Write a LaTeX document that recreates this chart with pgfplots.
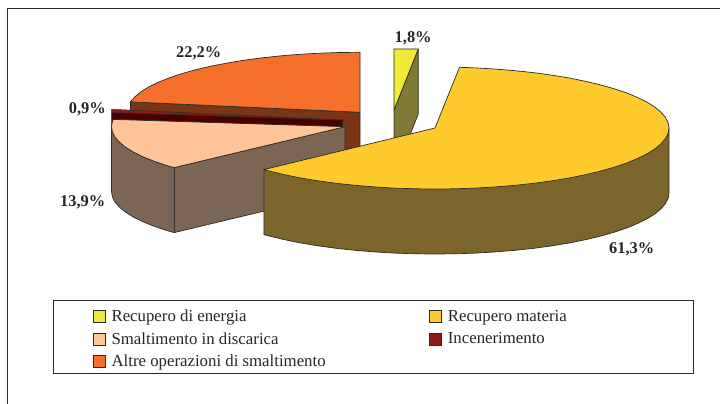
\documentclass[border=0pt]{standalone}
\usepackage{pgfplots}
\pgfplotsset{compat=1.18}
\usepackage{fontspec}
\setmainfont{Liberation Serif}
\definecolor{txt}{HTML}{262626}
\definecolor{edge}{HTML}{2A2A2A}
\definecolor{yelT}{HTML}{F0E938}
\definecolor{yelS}{HTML}{7F7B36}
\definecolor{golT}{HTML}{FFCA2B}
\definecolor{golS}{HTML}{7B652B}
\definecolor{orgT}{HTML}{F4702B}
\definecolor{orgS}{HTML}{7A3516}
\definecolor{pchT}{HTML}{FFC599}
\definecolor{pchS}{HTML}{7B6655}
\definecolor{marT}{HTML}{8B1A1A}
\definecolor{marS}{HTML}{4A0000}
\begin{document}
\begin{tikzpicture}
\begin{axis}[
  scale only axis,
  width=720pt, height=404pt,
  xmin=0, xmax=720, ymin=0, ymax=404,
  y dir=reverse,
  hide axis,
  no markers,
  legend columns=2,
  legend cell align=left,
  legend style={
    at={(axis cs:89.5,306)}, anchor=north west,
    draw=none, fill=none,
    font=\fontsize{16.8}{20}\selectfont\color{txt},
    /tikz/column 2/.style={column sep=101.3pt},
    row sep=5.1pt,
  },
  legend image code/.code={\draw[#1] (0pt,-6pt) rectangle (12.5pt,6pt); \path[draw=none,fill=none] (0pt,0pt) -- (16.5pt,0pt);},
]
\addlegendimage{fill=yelT, draw=edge, line width=0.7pt}
\addlegendentry{Recupero di energia}
\addlegendimage{fill=golT, draw=edge, line width=0.7pt}
\addlegendentry{Recupero materia}
\addlegendimage{fill=pchT, draw=edge, line width=0.7pt}
\addlegendentry{Smaltimento in discarica}
\addlegendimage{fill=marT, draw=edge, line width=0.7pt}
\addlegendentry{Incenerimento}
\addlegendimage{fill=orgT, draw=edge, line width=0.7pt}
\addlegendentry{Altre operazioni di smaltimento}

% outer frame, open on the right and at the bottom
\addplot[forget plot, draw=edge, line width=1.2pt] coordinates {(7.3,404) (7.3,8.5) (720,8.5)};
% legend box
\addplot[forget plot, draw=edge, line width=0.9pt] coordinates {(53.3,300.7) (693.7,300.7) (693.7,373) (53.3,373)} -- cycle;

% Recupero di energia 1,8
\addplot[forget plot, fill=yelS, draw=edge, line width=0.7pt, line join=round] coordinates {(394,110) (418.3,49) (418.3,114) (394,175)} -- cycle;
\addplot[forget plot, fill=yelT, draw=edge, line width=0.7pt, line join=round] coordinates {(394,49) (418.3,49) (394,110)} -- cycle;

% Altre operazioni 22,2
\addplot[forget plot, fill=orgS, draw=edge, line width=0.7pt, line join=round] coordinates {(130.5,101.9) (360,112.3) (360,177.3) (130.5,166.9)} -- cycle;
\addplot[forget plot, fill=orgT, draw=edge, line width=0.7pt, line join=round] coordinates {
  (360,112.3) (360,52.3) (339.7,52.5) (319.5,53.2) (299.7,54.3) (280.3,55.9) (261.5,57.9)
  (243.5,60.3) (226.4,63.2) (210.2,66.3) (195.2,69.9) (181.5,73.7) (169.1,77.9) (158.2,82.3)
  (148.8,86.9) (141.0,91.8) (134.9,96.8) (130.5,101.9)} -- cycle;

% Incenerimento 0,9
\addplot[forget plot, fill=marS, draw=edge, line width=0.7pt, line join=round] coordinates {(111.7,112.5) (342.7,120) (342.7,185) (111.7,177.5)} -- cycle;
\addplot[forget plot, fill=marT, draw=edge, line width=0.5pt, line join=round] coordinates {(342.7,120) (111.7,109.3) (111.7,112.5)} -- cycle;

% Smaltimento in discarica 13,9
\addplot[forget plot, fill=pchS, draw=edge, line width=0.7pt, line join=round] coordinates {
  (174.2,167.6) (345,126.7) (345,191.7) (174.2,232.6)} -- cycle;
\addplot[forget plot, fill=pchS, draw=edge, line width=0.7pt, line join=round] coordinates {
  (111.5,126.7) (112.4,131.9) (115.0,137.1) (119.5,142.2) (125.6,147.2) (133.4,152.1) (142.8,156.7)
  (153.7,161.1) (166.1,165.3) (174.2,167.6) (174.2,232.6) (166.1,230.3) (153.7,226.1) (142.8,221.7)
  (133.4,217.1) (125.6,212.2) (119.5,207.2) (115.0,202.1) (112.4,196.9) (111.5,191.7)} -- cycle;
\addplot[forget plot, fill=pchT, draw=edge, line width=0.7pt, line join=round] coordinates {
  (345,126.7) (113.2,119.4) (112.4,121.5) (111.5,126.7) (112.4,131.9) (115.0,137.1) (119.5,142.2)
  (125.6,147.2) (133.4,152.1) (142.8,156.7) (153.7,161.1) (166.1,165.3) (174.2,167.6)} -- cycle;

% Recupero materia 61,3
\addplot[forget plot, fill=golS, draw=edge, line width=0.7pt, line join=round] coordinates {
  (669.0,128) (669.0,193) (668.1,198.3) (665.4,203.6) (661.0,208.8) (654.9,213.9) (647.1,218.8)
  (637.6,223.5) (626.7,228.0) (614.2,232.2) (600.5,236.1) (585.4,239.7) (569.2,243.0) (552.0,245.8)
  (533.9,248.3) (515.0,250.3) (495.6,251.9) (475.6,253.1) (455.4,253.8) (435,254) (414.6,253.8)
  (394.4,253.1) (374.4,251.9) (355.0,250.3) (336.1,248.3) (318.0,245.8) (300.8,243.0) (284.6,239.7)
  (269.5,236.1) (263.9,234.6) (263.9,169.6)} -- cycle;
\addplot[forget plot, fill=golT, draw=edge, line width=0.7pt, line join=round] coordinates {
  (435,128) (459.5,67.3) (475.6,67.9) (495.6,69.1) (515.0,70.7) (533.9,72.7) (552.0,75.2) (569.2,78.0)
  (585.4,81.3) (600.5,84.9) (614.2,88.8) (626.7,93.0) (637.6,97.5) (647.1,102.2) (654.9,107.1)
  (661.0,112.2) (665.4,117.4) (668.1,122.7) (669.0,128) (668.1,133.3) (665.4,138.6) (661.0,143.8)
  (654.9,148.9) (647.1,153.8) (637.6,158.5) (626.7,163.0) (614.2,167.2) (600.5,171.1) (585.4,174.7)
  (569.2,178.0) (552.0,180.8) (533.9,183.3) (515.0,185.3) (495.6,186.9) (475.6,188.1) (455.4,188.8)
  (435,189) (414.6,188.8) (394.4,188.1) (374.4,186.9) (355.0,185.3) (336.1,183.3) (318.0,180.8)
  (300.8,178.0) (284.6,174.7) (269.5,171.1) (263.9,169.6)} -- cycle;

% percent labels
\tikzset{pct/.style={font=\fontsize{16.4}{20}\selectfont\bfseries, text=txt, inner sep=0pt}}
\node[pct, anchor=base west] at (axis cs:176,57.3) {22,2\%};
\node[pct, anchor=base west] at (axis cs:394.5,42.3) {1,8\%};
\node[pct, anchor=base west] at (axis cs:609,253.3) {61,3\%};
\node[pct, anchor=base east] at (axis cs:106,113) {0,9\%};
\node[pct, anchor=base east] at (axis cs:105.5,206.7) {13,9\%};
\end{axis}
\path (0pt,0pt) rectangle (720pt,404pt);
\end{tikzpicture}
\end{document}
